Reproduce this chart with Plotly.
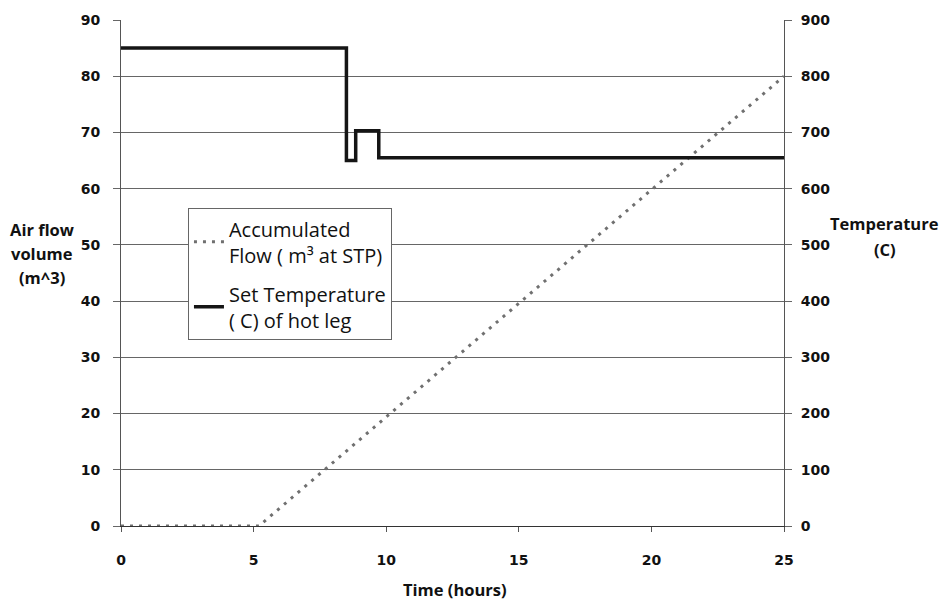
import plotly.graph_objects as go

# Data
flow_time = [0, 5.2, 25]
flow_volume = [0, 0, 80]          # m^3 at STP (left axis)

temp_time = [0, 8.5, 8.85, 9.72, 25]
temp_set = [850, 650, 703, 655, 655]   # C (right axis), step-wise

x_ticks = [0, 5, 10, 15, 20, 25]
y_ticks = [0, 10, 20, 30, 40, 50, 60, 70, 80, 90]
y2_ticks = [0, 100, 200, 300, 400, 500, 600, 700, 800, 900]

fig = go.Figure()
fig.add_trace(go.Scatter(
    x=flow_time, y=flow_volume, mode="lines",
    name="Accumulated<br>Flow ( m³ at STP)", legendgroup="a",
    line=dict(color="#707070", width=3, dash="3px,6px"),
    yaxis="y"))
fig.add_trace(go.Scatter(
    x=temp_time, y=temp_set, mode="lines", line_shape="hv",
    name="Set Temperature<br>( C) of hot leg", legendgroup="b",
    line=dict(color="#151515", width=3.5),
    yaxis="y2"))

tickfont = dict(family="DejaVu Sans", size=14, color="#111", weight="bold")
titlefont = dict(family="Open Sans", size=16.5, color="#111", weight="bold")


def px_x(px):
    return (px - 121) / 663


def px_y(py):
    return (526 - py) / 508


title_lines = [
    ("Air flow", 42, 228), ("volume", 42, 252), ("(m^3)", 42, 277),
    ("Temperature", 885, 222), ("(C)", 885, 248),
    ("Time (hours)", 455, 590),
]
annotations = [dict(text=t, xref="paper", yref="paper", x=px_x(x), y=px_y(y),
                    showarrow=False, font=titlefont, xanchor="center", yanchor="middle")
               for t, x, y in title_lines]

fig.update_layout(
    width=944, height=607,
    margin=dict(l=121, r=160, t=18, b=81),
    paper_bgcolor="white", plot_bgcolor="white",
    showlegend=True,
    legend=dict(x=0.101, y=0.628, xanchor="left", yanchor="top",
                bgcolor="white", bordercolor="#666", borderwidth=1,
                font=dict(family="Open Sans", size=20, color="#111"),
                tracegroupgap=10, itemwidth=30),
    xaxis=dict(range=[0, 25], tickvals=x_ticks, showgrid=False, zeroline=False,
               showline=True, linecolor="#333", linewidth=1,
               ticks="outside", ticklen=5, tickcolor="#555",
               ticklabelstandoff=16,
               tickfont=tickfont, mirror=False),
    yaxis=dict(range=[0, 90], tickvals=y_ticks, showgrid=True,
               gridcolor="#666", gridwidth=1, zeroline=False,
               showline=True, linecolor="#555", linewidth=1,
               ticks="outside", ticklen=7, tickcolor="#666",
               ticklabelstandoff=10,
               tickfont=tickfont),
    yaxis2=dict(range=[0, 900], tickvals=y2_ticks, overlaying="y", side="right",
                showgrid=False, zeroline=False,
                showline=True, linecolor="#555", linewidth=1,
                ticks="outside", ticklen=7, tickcolor="#666",
                ticklabelstandoff=6,
                tickfont=tickfont),
    annotations=annotations,
)

fig.write_html("out.html")
